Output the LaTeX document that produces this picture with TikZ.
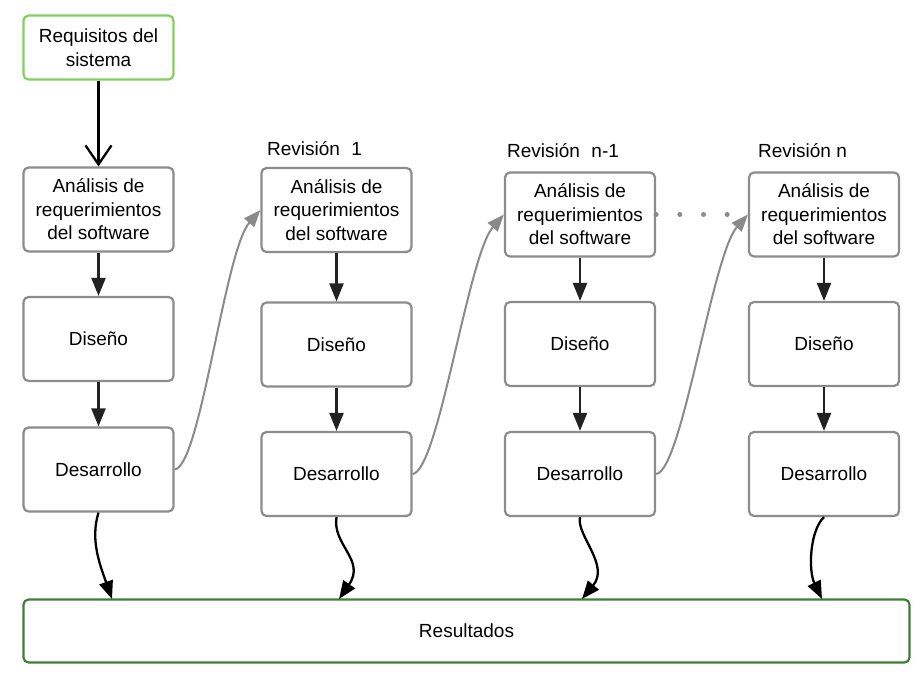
\documentclass[tikz,border=0pt]{standalone}
\usepackage{fontspec}
\setmainfont{Liberation Sans}
\usetikzlibrary{arrows.meta,calc}
\definecolor{boxgray}{HTML}{8C8C8C}
\definecolor{lightgreen}{HTML}{82D15E}
\definecolor{darkgreen}{HTML}{3D7F35}
\definecolor{linkgray}{HTML}{8A8A8A}
\definecolor{arrowdark}{HTML}{222222}
\tikzset{
  procbox/.style={draw=boxgray, line width=2.2pt, rounded corners=5pt, fill=white,
    minimum width=150pt, minimum height=84pt, inner sep=0pt, align=center,
    font=\fontsize{19}{23.5}\selectfont},
  startbox/.style={procbox, draw=lightgreen, minimum height=64pt},
  resbox/.style={procbox, draw=darkgreen, minimum width=886pt, minimum height=63pt},
  revlabel/.style={anchor=base west, inner sep=0pt, font=\fontsize{19}{23.5}\selectfont},
  flow/.style={draw=arrowdark, line width=2.3pt, -{Triangle[length=18pt,width=14pt]}},
  wavy/.style={draw=black, line width=2.3pt, -{Triangle[length=18pt,width=14pt]}},
  link/.style={draw=linkgray, line width=2pt, -{Triangle[length=17pt,width=13pt]}},
  startarrow/.style={draw=black, line width=2.3pt, -{Straight Barb[length=19pt,width=26pt,line width=2.3pt]}}
}
\begin{document}
\begin{tikzpicture}[x=1pt,y=-1pt]
\useasboundingbox (0,0) rectangle (921,681);

% column 1
\node[startbox] (req) at (98.5,47.5) {Requisitos del\\sistema};
\node[procbox] (a1) at (98.5,209.5) {Análisis de\\requerimientos\\del software};
\node[procbox] (d1) at (98.5,339) {Diseño};
\node[procbox] (e1) at (98.5,469.5) {Desarrollo};

% column 2
\node[procbox] (a2) at (336.5,210) {Análisis de\\requerimientos\\del software};
\node[procbox] (d2) at (336.5,344.5) {Diseño};
\node[procbox] (e2) at (336.5,474) {Desarrollo};

% column 3
\node[procbox] (a3) at (580,214.5) {Análisis de\\requerimientos\\del software};
\node[procbox] (d3) at (580,344) {Diseño};
\node[procbox] (e3) at (580,474) {Desarrollo};

% column 4
\node[procbox] (a4) at (824,214.5) {Análisis de\\requerimientos\\del software};
\node[procbox] (d4) at (824,344) {Diseño};
\node[procbox] (e4) at (824,474) {Desarrollo};

% results
\node[resbox] (res) at (466.5,631) {Resultados};

% revision labels
\node[revlabel] (r1) at (267,155) {Revisión\hspace{0.6em}1};
\node[revlabel] (r2) at (507,157) {Revisión\hspace{0.6em}n-1};
\node[revlabel] (r3) at (758,157) {Revisión n};

% vertical flows
\draw[startarrow] (req.south) -- (a1.north);
\foreach \c in {1,2,3,4}{
  \draw[flow] (a\c.south) -- (d\c.north);
  \draw[flow] (d\c.south) -- (e\c.north);
}

% gray links between revisions
\draw[link] (e1.east) .. controls +(26,-3) and +(-36,41) .. (a2.west);
\draw[link] (e2.east) .. controls +(26,-3) and +(-36,41) .. (a3.west);
\draw[link] (e3.east) .. controls +(26,-3) and +(-36,41) .. (a4.west);

% dotted continuation
\foreach \i in {0,1,2,3}{
  \fill[linkgray] ($(a3.east)+(\i*23.7,0)$) circle (2.5pt);
}

% wavy arrows to results
\coordinate (t1) at (112,599);
\coordinate (t2) at (339,599);
\coordinate (t3) at (582,599);
\coordinate (t4) at (822,599);
\draw[wavy] (e1.south) .. controls (90,540) and (100,565) .. (t1);
\draw[wavy] (e2.south) .. controls (332,545) and (366,560) .. (t2);
\draw[wavy] (e3.south) .. controls (576,535) and (610,565) .. (t3);
\draw[wavy] (e4.south) .. controls (810,530) and (808,570) .. (t4);
\end{tikzpicture}
\end{document}
